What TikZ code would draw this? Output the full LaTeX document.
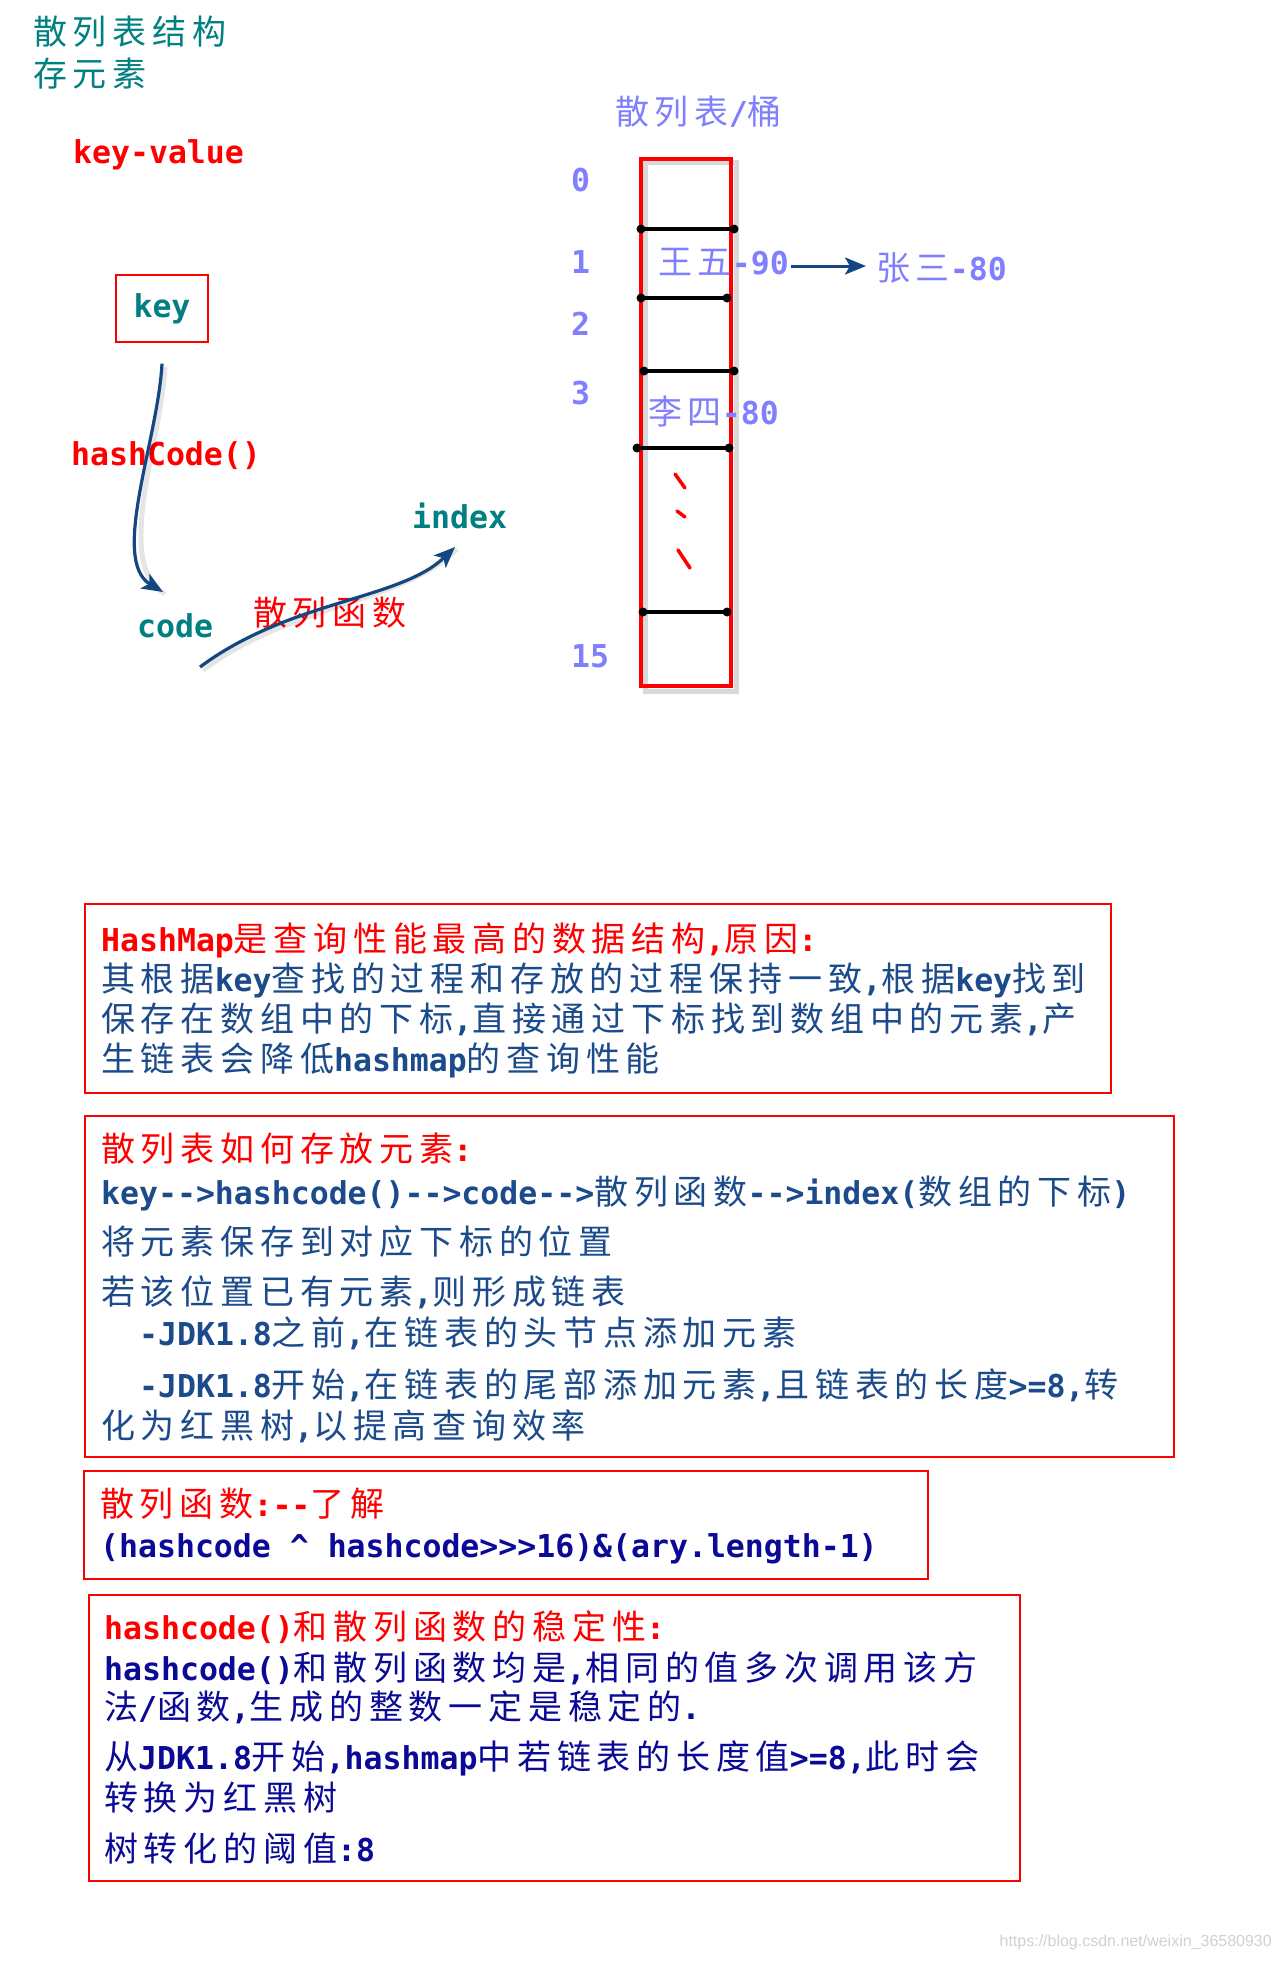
\documentclass[tikz,border=0pt]{standalone}
\usepackage{fontspec}
\setmainfont{DejaVu Sans Mono}[Ligatures=TeXOff]
\newfontfamily\cjkf{Noto Sans CJK SC}[LetterSpace=17]
\newfontfamily\wmfont{Liberation Sans}
\usetikzlibrary{arrows.meta,calc}
\newcommand\zh[1]{{\cjkf\mdseries\fontsize{34}{40}\selectfont #1}}
\definecolor{tealc}{RGB}{0,128,128}
\definecolor{lav}{RGB}{128,128,255}
\definecolor{bodyblue}{RGB}{28,75,140}
\definecolor{navyc}{RGB}{10,10,150}
\definecolor{arrblue}{RGB}{20,70,130}
\tikzset{
  txt/.style={anchor=base west, inner sep=0pt, font=\bfseries\fontsize{31.5}{38}\selectfont},
  boxframe/.style={draw=red, line width=1.4pt, inner sep=0pt},
  arr/.style={draw=arrblue, line width=3.2pt, -{Stealth[length=21pt,width=17pt,inset=5pt]}},
  shadowline/.style={draw=black, opacity=0.10, line width=5pt},
  link/.style={draw=black, line width=3.2pt},
  tick/.style={draw=red, line width=3.5pt, line cap=round},
}
\begin{document}
\begin{tikzpicture}[x=1pt,y=-1pt]
\useasboundingbox (0,0) rectangle (1280,1966);
\fill[white] (0,0) rectangle (1280,1966);

% ---------- top-left: title and flow ----------
\node[txt, text=tealc] (t1) at (33,44.5) {\zh{散列表结构}};
\node[txt, text=tealc] (t2) at (33,86.5) {\zh{存元素}};
\node[txt, text=red] (kv) at (73,163) {key-value};

\node[draw=red, line width=1.2pt, minimum width=92pt, minimum height=67pt, inner sep=0pt,
      text=tealc, font=\bfseries\fontsize{31.5}{38}\selectfont] (key) at (162,308.5) {key};
\node[txt, text=red] (hc) at (71,465) {hashCode()};
\node[txt, text=tealc] (code) at (137,637) {code};
\node[txt, text=tealc] (idx) at (412,528) {index};
\node[txt, text=red] (hf) at (253,625.5) {\zh{散列函数}};

\coordinate (a1e) at (163,592);
\coordinate (a2s) at (200,667);
\coordinate (a2e) at (455,547);
\draw[shadowline] ($(key.south)+(3,24)$) .. controls (161,443) and (113,563) .. ($(a1e)+(2,2)$);
\draw[arr] ($(key.south)+(0,21)$) .. controls (158,440) and (110,560) .. (a1e);
\draw[shadowline] ($(a2s)+(3,3)$) .. controls (293,603) and (403,603) .. ($(a2e)+(2,2)$);
\draw[arr] (a2s) .. controls (290,600) and (400,600) .. (a2e);

% ---------- bucket ----------
\node[txt, text=lav] (bt) at (615,124) {\zh{散列表}/\zh{桶}};
\node[txt, text=lav] (n0) at (571,191) {0};
\node[txt, text=lav] (n1) at (571,273) {1};
\node[txt, text=lav] (n2) at (571,335) {2};
\node[txt, text=lav] (n3) at (571,404) {3};
\node[txt, text=lav] (n15) at (571,667) {15};

\draw[draw=black, opacity=0.15, line width=5pt] (645,162) rectangle (736,691);
\node[draw=red, line width=4pt, minimum width=90pt, minimum height=527pt, inner sep=0pt] (bucket) at (686,422) {};

\foreach \yy/\aa/\bb in {229/641/734, 298/641/727, 371/644/734, 448/637/729, 612/643/727} {
  \draw[link] (\aa,\yy) -- (\bb,\yy);
  \fill[black] (\aa,\yy) circle (4.5pt);
  \fill[black] (\bb,\yy) circle (4.5pt);
}

\node[txt, text=lav] (w5) at (658,274) {\zh{王五}-90};
\node[txt, text=lav] (z3) at (876,280) {\zh{张三}-80};
\node[txt, text=lav] (l4) at (648,424) {\zh{李四}-80};
\draw[arr, line width=3pt]
  ($(w5.base east)+(2,-8)$) -- ($(w5.base east -| z3.west)+(-10,-8)$);

\draw[tick] (675,474) -- (685,488);
\draw[tick] (677,511) -- (685,517);
\draw[tick] (678,550) -- (690,568);

% ---------- box 1 ----------
\node[boxframe, minimum width=1026pt, minimum height=189pt] (box1) at (598,998.5) {};
\node[txt, text=red] (b1a) at (101,951) {HashMap\zh{是查询性能最高的数据结构},\zh{原因}:};
\node[txt, text=bodyblue] (b1b) at (101,991) {\zh{其根据}key\zh{查找的过程和存放的过程保持一致},\zh{根据}key\zh{找到}};
\node[txt, text=bodyblue] (b1c) at (101,1031) {\zh{保存在数组中的下标},\zh{直接通过下标找到数组中的元素},\zh{产}};
\node[txt, text=bodyblue] (b1d) at (101,1071) {\zh{生链表会降低}hashmap\zh{的查询性能}};

% ---------- box 2 ----------
\node[boxframe, minimum width=1089pt, minimum height=341pt] (box2) at (629.5,1286.5) {};
\node[txt, text=red] (b2a) at (101,1161) {\zh{散列表如何存放元素}:};
\node[txt, text=bodyblue] (b2b) at (101,1204) {key-->hashcode()-->code-->\zh{散列函数}-->index(\zh{数组的下标})};
\node[txt, text=bodyblue] (b2c) at (101,1254) {\zh{将元素保存到对应下标的位置}};
\node[txt, text=bodyblue] (b2d) at (101,1304) {\zh{若该位置已有元素},\zh{则形成链表}};
\node[txt, text=bodyblue] (b2e) at (139,1345) {-JDK1.8\zh{之前},\zh{在链表的头节点添加元素}};
\node[txt, text=bodyblue] (b2f) at (139,1397) {-JDK1.8\zh{开始},\zh{在链表的尾部添加元素},\zh{且链表的长度}>=8,\zh{转}};
\node[txt, text=bodyblue] (b2g) at (101,1438) {\zh{化为红黑树},\zh{以提高查询效率}};

% ---------- box 3 ----------
\node[boxframe, minimum width=844pt, minimum height=108pt] (box3) at (506,1525) {};
\node[txt, text=red] (b3a) at (100,1516) {\zh{散列函数}:--\zh{了解}};
\node[txt, text=navyc] (b3b) at (100,1557) {(hashcode \textasciicircum{} hashcode>>>16)\&(ary.length-1)};

% ---------- box 4 ----------
\node[boxframe, minimum width=931pt, minimum height=286pt] (box4) at (554.5,1738) {};
\node[txt, text=red] (b4a) at (104,1639) {hashcode()\zh{和散列函数的稳定性}:};
\node[txt, text=navyc] (b4b) at (104,1680) {hashcode()\zh{和散列函数均是},\zh{相同的值多次调用该方}};
\node[txt, text=navyc] (b4c) at (104,1719) {\zh{法}/\zh{函数},\zh{生成的整数一定是稳定的}.};
\node[txt, text=navyc] (b4d) at (104,1769) {\zh{从}JDK1.8\zh{开始},hashmap\zh{中若链表的长度值}>=8,\zh{此时会}};
\node[txt, text=navyc] (b4e) at (104,1810) {\zh{转换为红黑树}};
\node[txt, text=navyc] (b4f) at (104,1861) {\zh{树转化的阈值}:8};

% ---------- watermark ----------
\node[anchor=base east, inner sep=0pt, text=black!18, font=\wmfont\fontsize{16}{18}\selectfont] (wm) at (1272,1946) {https://blog.csdn.net/weixin\_36580930};
\end{tikzpicture}
\end{document}
